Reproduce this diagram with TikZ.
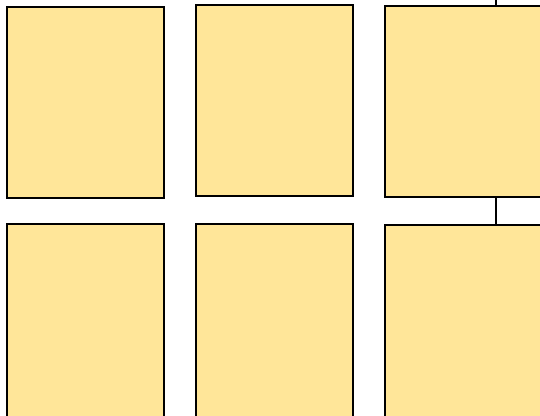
\documentclass[tikz,border=0pt]{standalone}
\usetikzlibrary{positioning}
\definecolor{boxfill}{HTML}{FFE699}
\tikzset{
  panel/.style={draw=black, fill=boxfill, line width=2pt, minimum width=157pt, minimum height=191pt, inner sep=0pt, outer sep=0pt, anchor=north west},
  link/.style={draw=black, line width=2pt}
}
\begin{document}
\begin{tikzpicture}[x=1pt, y=-1pt]

        % Frame of the picture
        \useasboundingbox (0,0) rectangle (540,415);
        \clip (0,0) rectangle (540,415);

        % Top row of panels
        \node[panel] (a1) at (7,7) {};
        \node[panel] (a2) at (196,5) {};
        \node[panel, minimum width=170pt] (a3) at (385,6) {};

        % Bottom row of panels (cut by the frame)
        \node[panel, minimum height=200pt] (b1) at (7,224) {};
        \node[panel, minimum height=200pt] (b2) at (196,224) {};
        \node[panel, minimum width=170pt, minimum height=200pt] (b3) at (385,225) {};

        % Links on the right column
        \coordinate (top) at (496,-5);
        \draw[link] (top) -- (top |- a3.north);
        \draw[link] (top |- a3.south) -- (top |- b3.north);

    \end{tikzpicture}
\end{document}
